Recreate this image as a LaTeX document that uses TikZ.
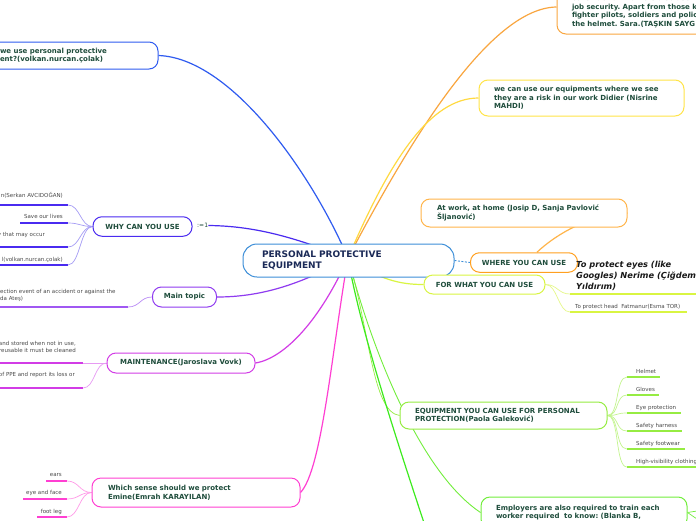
\documentclass[tikz,border=0pt]{standalone}
\usepackage{fontspec}
\setmainfont{DejaVu Sans}
\frenchspacing
\definecolor{txt}{HTML}{1F4D3C}
\definecolor{ctxt}{HTML}{1B2A57}
\definecolor{leaftxt}{HTML}{4A4A4A}
\definecolor{cblue}{HTML}{3C8ED8}
\definecolor{blueA}{HTML}{2F5BF0}
\definecolor{whyc}{HTML}{4A2BF0}
\definecolor{whyl}{HTML}{A59CF5}
\definecolor{mainc}{HTML}{8F3BF0}
\definecolor{mainl}{HTML}{B98AF6}
\definecolor{maintc}{HTML}{D23CE6}
\definecolor{maintl}{HTML}{E79AF3}
\definecolor{sensec}{HTML}{FF3FD2}
\definecolor{sensel}{HTML}{FF9BE8}
\definecolor{orangeA}{HTML}{F9A640}
\definecolor{yellowA}{HTML}{FFE448}
\definecolor{orangeB}{HTML}{FFB54A}
\definecolor{whereC}{HTML}{FFA020}
\definecolor{forC}{HTML}{D9F542}
\definecolor{forL}{HTML}{E6F88A}
\definecolor{eqC}{HTML}{96EC42}
\definecolor{eqL}{HTML}{C4F58F}
\definecolor{empC}{HTML}{72EE3C}
\definecolor{greenT}{HTML}{3DEB1E}
\pgfdeclarelayer{bg}
\pgfsetlayers{bg,main}
\tikzset{
  box/.style={draw, rounded corners=9pt, line width=1pt, fill=white, text=txt,
    font=\bfseries\fontsize{7}{8.7}\selectfont, inner ysep=0pt},
  leaf/.style={text=leaftxt, font=\fontsize{5.5}{6.5}\selectfont, inner sep=0pt},
  ul/.style={line width=1.8pt},
  lk/.style={line width=0.7pt},
  br/.style={line width=1.2pt},
}
\begin{document}
\begin{tikzpicture}[x=1pt,y=-1pt]
\useasboundingbox (0,0) rectangle (696,520);
\clip (0,0) rectangle (696,520);

% ---------- nodes ----------
\node[box, draw=cblue, rounded corners=14pt, text=ctxt, font=\bfseries\fontsize{9}{11}\selectfont,
  align=left, text width=173pt, inner xsep=19pt, minimum width=211pt, minimum height=33pt]
  (cen) at (348.5,260.5) {PERSONAL PROTECTIVE\\EQUIPMENT};

\node[box, draw=blueA, align=left, text width=138pt, inner xsep=20pt, minimum width=178pt, minimum height=27pt]
  (tl) at (69,55.5) {we use personal protective\\ent?(volkan.nurcan.çolak)};
\node[box, draw=whyc, minimum width=99pt, minimum height=19.5pt] (why) at (142.5,226.5) {WHY CAN YOU USE};
\node[text=txt, font=\fontsize{6}{7}\selectfont, inner sep=0pt, anchor=west] (why1) at (197,225.5) {:=1};
\node[box, draw=mainc, minimum width=64pt, minimum height=20pt] (mt) at (184.5,297) {Main topic};
\node[box, draw=maintc, minimum width=148pt, minimum height=20pt] (mn) at (181,363) {MAINTENANCE(Jaroslava Vovk)};
\node[box, draw=sensec, align=left, text width=176pt, inner xsep=16pt, minimum width=208pt, minimum height=29pt]
  (ws) at (196,492.5) {Which sense should we protect\\Emine(Emrah KARAYILAN)};

\node[box, draw=orangeA, align=left, text width=153pt, inner xsep=15pt, minimum width=183pt, minimum height=45pt]
  (tr) at (648.5,11.5) {construction workers also use h\\job security. Apart from those k\\fighter pilots, soldiers and polic\\the helmet. Sara.(TAŞKIN SAYG};
\node[box, draw=yellowA, align=left, text width=175pt, inner xsep=15pt, minimum width=205pt, minimum height=36pt]
  (yl) at (581.5,98) {we can use our equipments where we see\\they are a risk in our work Didier (Nisrine\\MAHDI)};
\node[box, draw=orangeB, align=left, text width=174pt, inner xsep=16pt, minimum width=206pt, minimum height=28pt]
  (aw) at (524,213) {At work, at home (Josip D, Sanja Pavlović\\Šljanović)};
\node[box, draw=whereC, minimum width=107pt, minimum height=19.5pt] (wh) at (524,262.5) {WHERE YOU CAN USE};
\node[box, draw=forC, minimum width=121pt, minimum height=19pt] (fw) at (484.5,284.5) {FOR WHAT YOU CAN USE};
\node[box, draw=eqC, align=left, text width=177pt, inner xsep=15pt, minimum width=207pt, minimum height=27pt]
  (eq) at (503.5,415.5) {EQUIPMENT YOU CAN USE FOR PERSONAL\\PROTECTION(Paola Galeković)};
\node[box, draw=empC, align=left, text width=176pt, inner xsep=15pt, minimum width=206pt, minimum height=31pt]
  (emp) at (584,512.5) {Employers are also required to train each\\worker required\ \ to know: (Blanka B,};

% ---------- leaves ----------
\node[leaf, anchor=base east] (w1) at (63,197) {n(Serkan AVCIDOĞAN)};
\node[leaf, anchor=base east] (w2) at (63,218) {Save our lives};
\node[leaf, anchor=base east] (w3) at (45,236) {y that may occur};
\node[leaf, anchor=base east] (w4) at (63,261) {l(volkan.nurcan.çolak)};
\coordinate (w1a) at (0,205);  \coordinate (w1b) at (68,205);
\coordinate (w2a) at (20,223); \coordinate (w2b) at (68,223);
\coordinate (w3a) at (0,247);  \coordinate (w3b) at (68,247);
\coordinate (w4a) at (0,265);  \coordinate (w4b) at (68,265);

\node[leaf, anchor=north west, align=left] (m1) at (0,289.5) {ection event of an accident or against the\\da Ateş)};
\coordinate (m1a) at (0,307); \coordinate (m1b) at (128,307);

\node[leaf, anchor=south east, align=right] (n1) at (76,352.5) {and stored when not in use,\\reusable it must be cleaned};
\node[leaf, anchor=base east] (n2) at (75,376) {of PPE and report its loss or};
\coordinate (n1a) at (0,363); \coordinate (n1b) at (83,363);
\coordinate (n2a) at (0,388); \coordinate (n2b) at (83,388);

\node[leaf, anchor=base east] (s1) at (62,476) {ears};
\node[leaf, anchor=base east] (s2) at (62,494) {eye and face};
\node[leaf, anchor=base east] (s3) at (62,513) {foot leg};
\coordinate (s1a) at (46,481); \coordinate (s1b) at (67,481);
\coordinate (s2a) at (23,499); \coordinate (s2b) at (67,499);
\coordinate (s3a) at (37,517); \coordinate (s3b) at (67,517);

\node[anchor=north west, align=left, font=\bfseries\itshape\fontsize{8.3}{11}\selectfont, text=black!90, inner sep=0pt]
  (f1) at (576,261) {To protect eyes (like\\Googles) Nerime (Çiğdem\\Yıldırım)};
\node[leaf, anchor=base west] (f2) at (575,308) {To protect head\ \ Fatmanur(Esma TOR)};
\coordinate (f1a) at (570,294); \coordinate (f1b) at (700,294);
\coordinate (f2a) at (570,312); \coordinate (f2b) at (687,312);

\foreach \t/\y/\e [count=\i] in {Helmet/371/660, Gloves/389/659, Eye protection/407/681,
   Safety harness/425/682, Safety footwear/443/685, High-visibility clothing/461/700}{
  \node[leaf, anchor=base west] (e\i) at (636,\y+2) {\t};
  \coordinate (ea\i) at (627,\y+6);
  \coordinate (eb\i) at (\e,\y+6);
}

\coordinate (hub) at (348,258);
\coordinate (offg) at (428,535);
\coordinate (fk1) at (697,511);
\coordinate (fk2) at (697,519);

% ---------- connectors ----------
\begin{pgfonlayer}{bg}
\fill[white] (0,0) rectangle (696,520);
\draw[br, blueA] (hub) .. controls (310,170) and (230,58) .. (tl.east);
\draw[br, orangeA] (hub) .. controls (410,140) and (490,8) .. ([yshift=4.5pt]tr.west);
\draw[br, yellowA!90!orange] (hub) .. controls (390,160) and (430,98) .. (yl.west);
\draw[br, whyc] (hub) .. controls (300,240) and (260,226) .. (why1.east);
\draw[br, mainc] (hub) .. controls (300,285) and (260,297) .. (mt.east);
\draw[br, maintc] (hub) .. controls (320,320) and (285,358) .. (mn.east);
\draw[br, sensec] (hub) .. controls (332,350) and (322,470) .. (ws.east);
\draw[br, forC] (hub) .. controls (380,280) and (400,284.5) .. (fw.west);
\draw[lk, eqC] (hub) .. controls (370,330) and (372,412) .. (eq.west);
\draw[line width=0.9pt, empC] (hub) .. controls (372,350) and (420,472) .. (emp.west);
\draw[br, greenT] (hub) .. controls (360,330) and (400,450) .. (offg);
\draw[line width=0.9pt, cblue, dash pattern=on 2pt off 1.5pt] (cen.east) -- (wh.west);
\draw[br, orangeB] (aw.east) .. controls (590,214) and (555,235) .. ([xshift=13pt]wh.north);
\draw[lk, empC] (emp.east) -- (fk1);
\draw[lk, empC] (emp.east) -- (fk2);

\foreach \k in {1,2,3,4}{
  \draw[ul, whyc] (w\k a) -- (w\k b);
  \draw[lk, whyl] (w\k b) .. controls +(12,0) and +(-12,0) .. (why.west);
}
\draw[ul, mainc!85] (m1a) -- (m1b);
\draw[lk, mainl] (m1b) .. controls +(12,0) and +(-12,0) .. (mt.west);
\foreach \k in {1,2}{
  \draw[ul, maintc] (n\k a) -- (n\k b);
  \draw[lk, maintl] (n\k b) .. controls +(12,0) and +(-12,0) .. (mn.west);
}
\foreach \k in {1,2,3}{
  \draw[ul, sensec] (s\k a) -- (s\k b);
  \draw[lk, sensel] (s\k b) .. controls +(12,0) and +(-12,0) .. (ws.west);
}
\foreach \k in {1,2}{
  \draw[ul, forC] (f\k a) -- (f\k b);
  \draw[lk, forL] (fw.east) .. controls +(12,0) and +(-12,0) .. (f\k a);
}
\foreach \k in {1,...,6}{
  \draw[ul, eqC] (ea\k) -- (eb\k);
  \draw[lk, eqL] (eq.east) .. controls +(12,0) and +(-12,0) .. (ea\k);
}
\end{pgfonlayer}
\end{tikzpicture}
\end{document}
